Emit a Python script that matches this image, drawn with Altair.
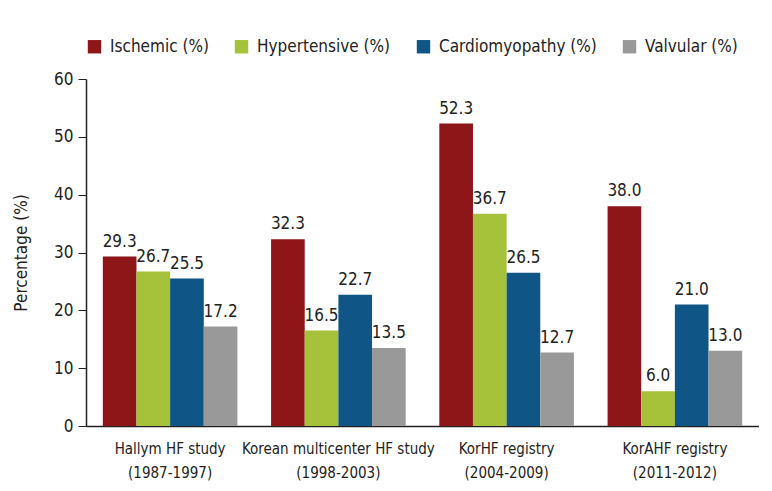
import altair as alt
import pandas as pd

groups = ["Hallym HF study|(1987-1997)", "Korean multicenter HF study|(1998-2003)",
          "KorHF registry|(2004-2009)", "KorAHF registry|(2011-2012)"]
series = ["Ischemic (%)", "Hypertensive (%)", "Cardiomyopathy (%)", "Valvular (%)"]
ischemic = [29.3, 32.3, 52.3, 38.0]
hypertensive = [26.7, 16.5, 36.7, 6.0]
cardiomyopathy = [25.5, 22.7, 26.5, 21.0]
valvular = [17.2, 13.5, 12.7, 13.0]
colors = ["#8E1518", "#A6C23A", "#0F5585", "#999999"]

rows = []
for s, vals in zip(series, [ischemic, hypertensive, cardiomyopathy, valvular]):
    for g, v in zip(groups, vals):
        rows.append({"group": g, "series": s, "value": v})
df = pd.DataFrame(rows)

FONT = "DejaVu Sans Condensed, sans-serif"
TXT = "#222"

x = alt.X("group:N", sort=groups, title=None,
          scale=alt.Scale(paddingInner=0.2, paddingOuter=0.1),
          axis=alt.Axis(labelAngle=0, labelExpr="split(datum.label, '|')",
                        labelFontSize=15, labelFont=FONT, labelColor=TXT, labelLimit=400,
                        ticks=False, domainColor=TXT, domainWidth=1.5,
                        labelPadding=15, labelLineHeight=24))
xo = alt.XOffset("series:N", sort=series, scale=alt.Scale(paddingInner=0, paddingOuter=0))
y = alt.Y("value:Q", title="Percentage (%)",
          scale=alt.Scale(domain=[0, 60]),
          axis=alt.Axis(values=[0, 10, 20, 30, 40, 50, 60], grid=False,
                        labelFontSize=17, labelFont=FONT, labelColor=TXT,
                        titleFontSize=17, titleFont=FONT, titleFontWeight="normal",
                        titleColor=TXT, tickColor=TXT, domainColor=TXT,
                        domainWidth=1.5, tickSize=8, labelPadding=5, titlePadding=23))
color = alt.Color("series:N", sort=series,
                  scale=alt.Scale(domain=series, range=colors),
                  legend=alt.Legend(title=None, orient="none", legendX=0, legendY=-41,
                                    direction="horizontal", symbolType="square",
                                    symbolSize=180, symbolStrokeWidth=0,
                                    labelFontSize=17, labelFont=FONT, labelColor=TXT,
                                    columnPadding=24, labelOffset=7, labelLimit=300))

bars = alt.Chart(df).mark_bar().encode(x=x, xOffset=xo, y=y, color=color)
labels = alt.Chart(df).mark_text(dy=-15, fontSize=17, font=FONT, color=TXT).encode(
    x=x, xOffset=xo, y=y, text=alt.Text("value:Q", format=".1f"))

chart = (bars + labels).properties(
    width=673, height=347,
    padding={"left": 4, "top": 30, "right": 0, "bottom": 5},
).configure_view(stroke=None)
chart.save("out.html", embed_options={"renderer": "svg", "actions": False})
